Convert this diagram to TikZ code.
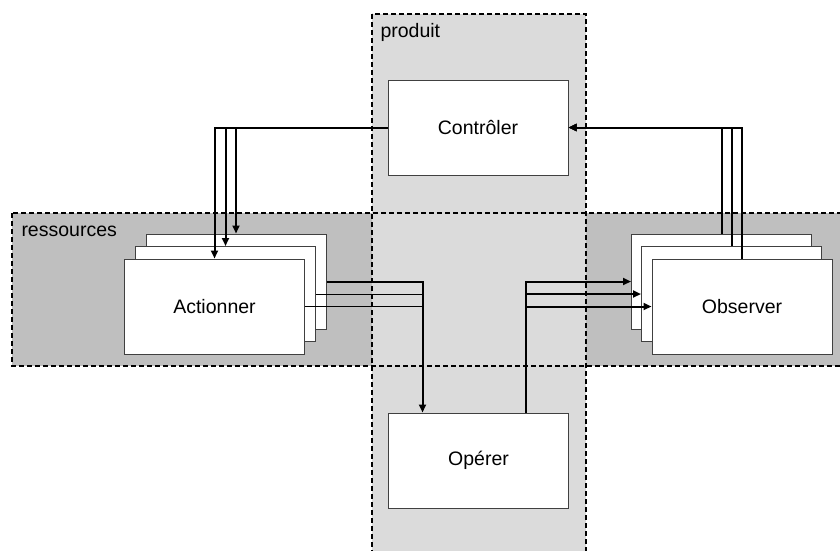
\documentclass[tikz,border=0pt]{standalone}
\usepackage{fontspec}
\setmainfont{Liberation Sans}
\usetikzlibrary{arrows.meta}

\newcommand{\lbl}{\fontsize{19.5}{23}\selectfont}

\begin{document}
\begin{tikzpicture}[x=1pt, y=-1pt, line width=1pt,
  box/.style={draw=black!75, fill=white, minimum width=180pt, minimum height=95pt, inner sep=0pt, font=\lbl},
  zone/.style={draw, dash pattern=on 5pt off 3pt, line width=1.3pt},
  flow/.style={line width=2pt, -{Triangle[length=8pt, width=7pt]}}]
  \useasboundingbox (0,0) rectangle (840,550);
  % zones
  \fill[black!25] (12,213) rectangle (850,366);
  \fill[black!14] (372,14) rectangle (586,560);
  \draw[zone] (12,213) rectangle (850,366);
  \draw[zone] (372,14) rectangle (586,560);
  \node[anchor=base west, inner sep=0pt, font=\lbl] (prod) at (380,37) {produit};
  \node[anchor=base west, inner sep=0pt, font=\lbl] (res) at (21,236) {ressources};
  % boxes
  \node[box] (ctrl) at (478,127.5) {Contrôler};
  \node[box] (oper) at (478.5,460.5) {Opérer};
  \foreach \n/\x/\y in {A/236/281.5, B/225.5/294, C/214.5/306.5} { \node[box] (act\n) at (\x,\y) {}; }
  \node at (actC) {\lbl Actionner};
  \foreach \n/\x/\y in {A/721.5/281.5, B/731.5/294, C/742/306.5} { \node[box] (obs\n) at (\x,\y) {}; }
  \node at (obsC) {\lbl Observer};
  % connectors
  \coordinate (opin) at ([xshift=-56pt]oper.north);
  \coordinate (opout) at ([xshift=47.5pt]oper.north);
  \foreach \n in {A, B, C} { \draw[flow] (ctrl.west) -| (act\n.north); }
  \foreach \n in {A, B, C} { \draw[flow] (obs\n.north) |- (ctrl.east); }
  \draw[flow] (actA.east) -| (opin);
  \draw (actB.east) -- (actB.east -| opin);
  \draw (actC.east) -- (actC.east -| opin);
  \foreach \n in {A, B, C} { \draw[flow] (opout) |- (obs\n.west); }
\end{tikzpicture}
\end{document}
